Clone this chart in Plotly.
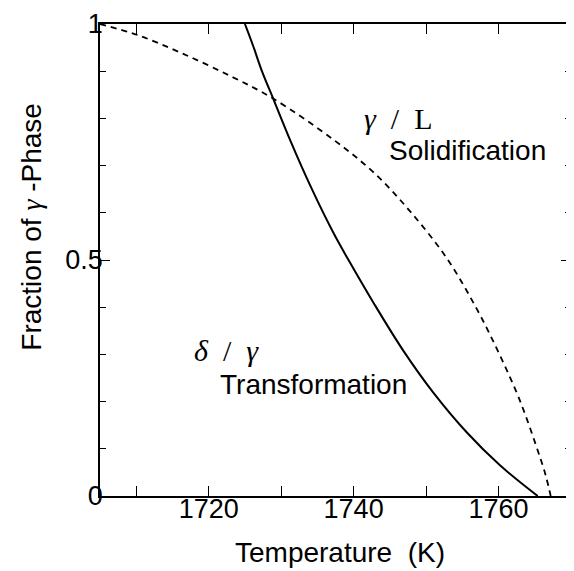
import plotly.graph_objects as go

# delta/gamma transformation (solid)
trans_T = [1725.0, 1726.1, 1727.4, 1728.9, 1731.3, 1734.1, 1737.3, 1739.3,
           1742.8, 1746.9, 1751.0, 1755.6, 1760.2, 1765.4]
trans_f = [1.0, 0.955, 0.898, 0.842, 0.752, 0.655, 0.555, 0.50,
           0.408, 0.307, 0.219, 0.135, 0.065, 0.0]

# gamma/L solidification (dashed)
solid_T = [1705.0, 1710.3, 1716.3, 1723.1, 1728.9, 1737.3, 1742.8, 1747.8,
           1752.8, 1756.9, 1760.1, 1762.9, 1765.2, 1766.5, 1767.2]
solid_f = [1.0, 0.976, 0.938, 0.889, 0.842, 0.754, 0.685, 0.603,
           0.505, 0.399, 0.301, 0.204, 0.106, 0.044, 0.0]

x_tickvals = [1710, 1720, 1730, 1740, 1750, 1760]
x_ticktext = ["", "1720", "", "1740", "", "1760"]
y_tickvals = [0, 0.5, 1]
y_ticktext = ["0", "0.5", "1"]
y_minorvals = [0.1, 0.2, 0.3, 0.4, 0.6, 0.7, 0.8, 0.9]

SANS = "Liberation Sans, Arial, sans-serif"
SERIF = "Liberation Serif, Times New Roman, serif"
NB = "\u00a0"

fig = go.Figure()
fig.add_trace(go.Scatter(x=solid_T, y=solid_f, mode="lines",
                         line=dict(color="black", width=1.8, dash="6px,5px", shape="spline", smoothing=1.0),
                         showlegend=False))
fig.add_trace(go.Scatter(x=trans_T, y=trans_f, mode="lines",
                         line=dict(color="black", width=2, shape="spline", smoothing=1.0),
                         showlegend=False))

fig.update_xaxes(range=[1705, 1770], tickvals=x_tickvals, ticktext=x_ticktext,
                 ticks="inside", ticklen=10, tickwidth=1.2, tickcolor="black",
                 ticklabelstandoff=-12, ticklabeloverflow="allow",
                 showline=True, linecolor="black", linewidth=1.5, mirror="allticks",
                 showgrid=False, zeroline=False,
                 tickfont=dict(family=SANS, size=27, color="black"))
fig.update_yaxes(range=[0, 1], tickvals=y_tickvals, ticktext=y_ticktext,
                 ticks="inside", ticklen=10, tickwidth=1.2, tickcolor="black",
                 ticklabelstandoff=-10, ticklabeloverflow="allow",
                 minor=dict(tickvals=y_minorvals,
                            ticks="inside", ticklen=6, tickwidth=1.1, tickcolor="black"),
                 showline=True, linecolor="black", linewidth=1.5, mirror="allticks",
                 showgrid=False, zeroline=False,
                 tickfont=dict(family=SANS, size=27, color="black"))

ann = []
ann.append(dict(text="<i>γ</i>" + NB + NB + "/" + NB + NB + "L", x=1746.2, y=0.80, xref="x", yref="y",
                xanchor="center", yanchor="middle",
                showarrow=False, font=dict(family=SERIF, size=30, color="black")))
ann.append(dict(text="Solidification", x=1755.7, y=0.731, xref="x", yref="y",
                xanchor="center", yanchor="middle",
                showarrow=False, font=dict(family=SANS, size=28, color="black")))
ann.append(dict(text="<i>δ</i>" + NB + NB + "/" + NB + NB + "<i>γ</i>", x=1722.45, y=0.309, xref="x", yref="y",
                xanchor="center", yanchor="middle",
                showarrow=False, font=dict(family=SERIF, size=30, color="black")))
ann.append(dict(text="Transformation", x=1734.5, y=0.236, xref="x", yref="y",
                xanchor="center", yanchor="middle",
                showarrow=False, font=dict(family=SANS, size=28, color="black")))
ann.append(dict(text="Temperature" + NB + NB + "(K)", x=0.51, y=-0.119, xref="paper", yref="paper",
                xanchor="center", yanchor="middle",
                showarrow=False, font=dict(family=SANS, size=28, color="black")))
ann.append(dict(text="Fraction of <span style='font-family:Liberation Serif'><i>γ</i></span> -Phase",
                x=-0.145, y=0.57, xref="paper", yref="paper", textangle=-90,
                xanchor="center", yanchor="middle",
                showarrow=False, font=dict(family=SANS, size=28, color="black")))

# page body has an 8px margin, so the figure is sized to fit the 574x571 window
fig.update_layout(width=566, height=563, margin=dict(l=92, r=1, t=9, b=75),
                  paper_bgcolor="white", plot_bgcolor="white", annotations=ann)

fig.write_html("out.html")
